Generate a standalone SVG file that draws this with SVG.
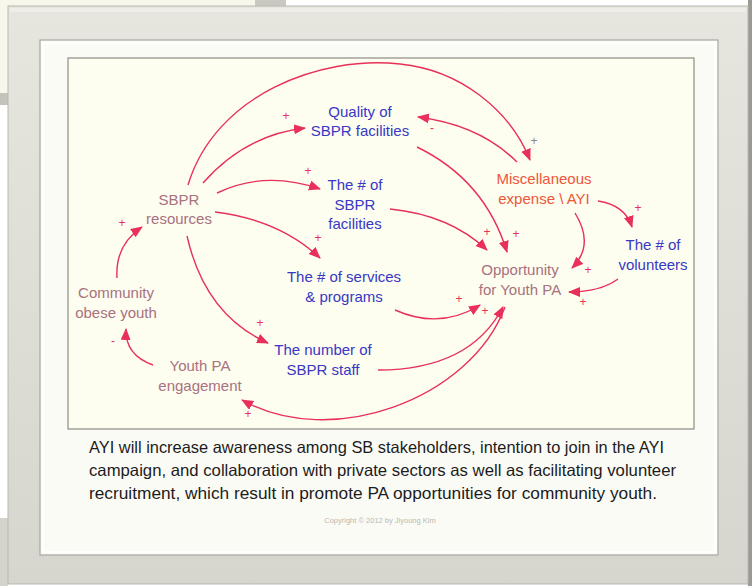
<svg xmlns="http://www.w3.org/2000/svg" width="752" height="586" viewBox="0 0 752 586">
<defs>
<linearGradient id="frameG" x1="0" y1="0" x2="0" y2="1">
<stop offset="0" stop-color="#e6e6de"/>
<stop offset="1" stop-color="#d6d6ce"/>
</linearGradient>
<marker id="ah" markerUnits="userSpaceOnUse" markerWidth="13" markerHeight="11" refX="11" refY="5" orient="auto">
<path d="M0,0 L12,5 L0,10 z" fill="#e8305a"/>
</marker>
<style>
.lbl{font-family:"Liberation Sans",Arial,sans-serif;font-size:15px;text-anchor:middle}
.blue{fill:#3838c4}
.mauve{fill:#a8727e}
.misc{fill:#ee5638}
.sign{font-family:"Liberation Sans",Arial,sans-serif;font-size:12px;fill:#e8305a;text-anchor:middle}
.c{fill:none;stroke:#e8305a;stroke-width:1.4;marker-end:url(#ah)}
.cap{font-family:"Liberation Sans",Arial,sans-serif;font-size:16.5px;fill:#1c1c1c}
</style>
</defs>
<!-- background outside frame -->
<rect x="0" y="0" width="752" height="586" fill="#ffffff"/>
<rect x="0" y="0" width="255" height="7" fill="#f7f7ec"/>
<rect x="255" y="0" width="31" height="7" fill="#c9c9c2"/>
<rect x="0" y="0" width="8" height="93" fill="#f7f7ec"/>
<rect x="0" y="93" width="8" height="12" fill="#c4c4bc"/>
<rect x="0" y="518" width="8" height="68" fill="#d4d4cc"/>
<rect x="748" y="0" width="4" height="586" fill="#9a9a94"/>
<!-- frame -->
<rect x="8" y="6" width="740" height="578" fill="url(#frameG)" stroke="#b8b8b0" stroke-width="1"/>
<rect x="10" y="8" width="736" height="4" fill="#f0f0ea" opacity="0.8"/>
<rect x="40" y="40" width="678" height="515" fill="#fbfbf6" stroke="#a8a8a2" stroke-width="1.2"/>
<rect x="43" y="43" width="672" height="509" fill="none" stroke="#ffffff" stroke-width="2"/>
<!-- diagram box -->
<rect x="68" y="58" width="626" height="371" fill="#fdfdf0" stroke="#8c8c86" stroke-width="1.2"/>

<g id="connectors">
<path class="c" d="M203,183 Q245,135 305,128"/>
<path class="c" d="M188,185 C215,95 320,55 400,64 C460,70 510,110 530,160"/>
<path class="c" d="M517,162 Q480,125 418,117"/>
<path class="c" d="M217,193 Q265,170 320,189"/>
<path class="c" d="M215,212 Q280,220 320,258"/>
<path class="c" d="M187,236 Q205,315 268,343"/>
<path class="c" d="M117,278 Q115,245 142,227"/>
<path class="c" d="M153,365 Q125,355 126,329"/>
<path class="c" d="M417,147 Q485,180 507,252"/>
<path class="c" d="M390,209 Q450,215 487,250"/>
<path class="c" d="M575,213 Q595,245 572,268"/>
<path class="c" d="M598,201 Q625,205 632,227"/>
<path class="c" d="M618,279 Q600,292 569,292"/>
<path class="c" d="M395,310 Q440,330 480,305"/>
<path class="c" d="M378,370 Q470,370 503,307"/>
<path class="c" d="M505,307 C470,400 330,450 242,400"/>
<g>
<text class="sign" x="286" y="120">+</text>
<text class="sign" x="534" y="145" style="fill:#8a8a8a">+</text>
<text class="sign" x="432" y="132">-</text>
<text class="sign" x="308" y="175">+</text>
<text class="sign" x="318" y="242">+</text>
<text class="sign" x="260" y="327">+</text>
<text class="sign" x="122" y="227">+</text>
<text class="sign" x="113" y="345">-</text>
<text class="sign" x="487" y="236">+</text>
<text class="sign" x="516" y="238">+</text>
<text class="sign" x="588" y="274">+</text>
<text class="sign" x="638" y="212">+</text>
<text class="sign" x="583" y="306">+</text>
<text class="sign" x="459" y="303">+</text>
<text class="sign" x="485" y="315">+</text>
<text class="sign" x="248" y="418">+</text>
</g>
</g>

<g id="quality"><text class="lbl blue" x="360" y="117">Quality of</text><text class="lbl blue" x="360" y="136">SBPR facilities</text></g>
<g id="sbpr-resources"><text class="lbl mauve" x="179" y="205">SBPR</text><text class="lbl mauve" x="179" y="224">resources</text></g>
<g id="num-facilities"><text class="lbl blue" x="355" y="190">The # of</text><text class="lbl blue" x="355" y="210">SBPR</text><text class="lbl blue" x="355" y="229">facilities</text></g>
<g id="misc"><text class="lbl misc" x="544" y="184">Miscellaneous</text><text class="lbl misc" x="544" y="204">expense \ AYI</text></g>
<g id="volunteers"><text class="lbl blue" x="653" y="250">The # of</text><text class="lbl blue" x="653" y="270">volunteers</text></g>
<g id="opportunity"><text class="lbl mauve" x="520" y="275">Opportunity</text><text class="lbl mauve" x="520" y="295">for Youth PA</text></g>
<g id="services"><text class="lbl blue" x="344" y="282">The # of services</text><text class="lbl blue" x="344" y="302">&amp; programs</text></g>
<g id="community"><text class="lbl mauve" x="116" y="298">Community</text><text class="lbl mauve" x="116" y="318">obese youth</text></g>
<g id="staff"><text class="lbl blue" x="323" y="355">The number of</text><text class="lbl blue" x="323" y="375">SBPR staff</text></g>
<g id="youth-pa"><text class="lbl mauve" x="200" y="371">Youth PA</text><text class="lbl mauve" x="200" y="391">engagement</text></g>

<g id="caption">
<text class="cap" x="89" y="453" textLength="575" lengthAdjust="spacingAndGlyphs">AYI will increase awareness among SB stakeholders, intention to join in the AYI</text>
<text class="cap" x="89" y="476" textLength="587" lengthAdjust="spacingAndGlyphs">campaign, and collaboration with private sectors as well as facilitating volunteer</text>
<text class="cap" x="89" y="499" textLength="568" lengthAdjust="spacingAndGlyphs">recruitment,  which result in promote PA opportunities for community youth.</text>
<text x="380" y="523" font-family="Liberation Sans, Arial, sans-serif" font-size="7.5" fill="#b8b8b0" text-anchor="middle">Copyright © 2012 by Jiyoung Kim</text>
</g>
</svg>
